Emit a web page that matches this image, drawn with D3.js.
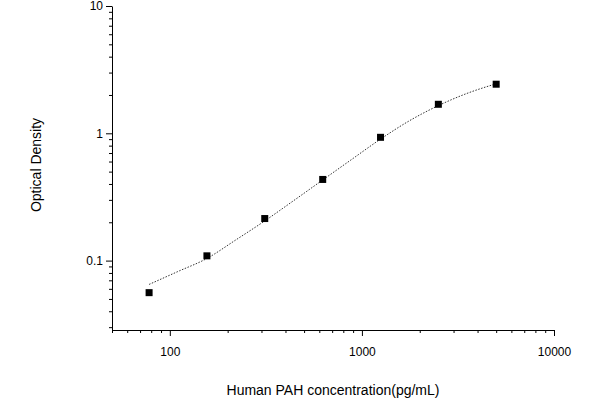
<!DOCTYPE html><html><head><script src="https://cdn.jsdelivr.net/npm/d3@7"></script>
<style>body{margin:0;background:#fff}text{font-family:Arial,"Liberation Sans",sans-serif}</style></head><body><svg width="600" height="400"></svg>
<script>
const concentrations=[78,156,312,625,1250,2500,5000];
const od=[0.056,0.109,0.214,0.434,0.93,1.69,2.43];
const fitX=[78,110,156,220,312,440,625,880,1250,1760,2500,3500,5000];
const fitY=[0.065,0.082,0.104,0.145,0.205,0.295,0.43,0.62,0.9,1.25,1.65,2.05,2.45];
const xTicks=[100,1000,10000], yTicks=[0.1,1,10];
const svg=d3.select("svg");
const x=d3.scaleLog().domain([50,10000]).range([112,554]);
const y=d3.scaleLog().domain([0.0285,10]).range([330,6]);
const minorX=[];[10,100,1000].forEach(b=>{for(let i=1;i<10;i++){const v=b*i;if(v>=50&&v<=10000&&!xTicks.includes(v))minorX.push(v);}});
const minorY=[];[0.01,0.1,1].forEach(b=>{for(let i=1;i<10;i++){const v=+(b*i).toPrecision(3);if(v>=0.0285&&v<=10&&!yTicks.includes(v))minorY.push(v);}});
const ax=svg.append("g").attr("transform","translate(0,330)");
ax.call(d3.axisBottom(x).tickValues(xTicks).tickFormat(d3.format("d")).tickSize(6).tickSizeOuter(0));
ax.append("g").call(d3.axisBottom(x).tickValues(minorX).tickFormat("").tickSize(3).tickSizeOuter(0)).select(".domain").remove();
const ay=svg.append("g").attr("transform","translate(112,0)");
ay.call(d3.axisLeft(y).tickValues(yTicks).tickFormat(d=>String(d)).tickSize(6).tickSizeOuter(0));
ay.append("g").call(d3.axisLeft(y).tickValues(minorY).tickFormat("").tickSize(3).tickSizeOuter(0)).select(".domain").remove();
svg.selectAll(".tick text").attr("font-size",12).attr("fill","#000");
ax.selectAll(".tick text").attr("dy","1.4em");
svg.selectAll(".domain,.tick line").attr("stroke","#000");
const fit=fitX.map((v,i)=>[v,fitY[i]]);
svg.append("path").datum(fit).attr("fill","none").attr("stroke","#333").attr("stroke-width",1).attr("stroke-dasharray","1.5,1.5")
 .attr("d",d3.line().x(d=>x(d[0])).y(d=>y(d[1])).curve(d3.curveMonotoneX));
svg.selectAll("rect.pt").data(concentrations).join("rect").attr("class","pt")
 .attr("x",d=>x(d)-3.5).attr("y",(d,i)=>y(od[i])-3.5).attr("width",7).attr("height",7).attr("fill","#000");
svg.append("text").attr("x",333).attr("y",395).attr("text-anchor","middle").attr("font-size",14).text("Human PAH concentration(pg/mL)");
svg.append("text").attr("transform","translate(41,165) rotate(-90)").attr("text-anchor","middle").attr("font-size",14).text("Optical Density");
</script></body></html>
